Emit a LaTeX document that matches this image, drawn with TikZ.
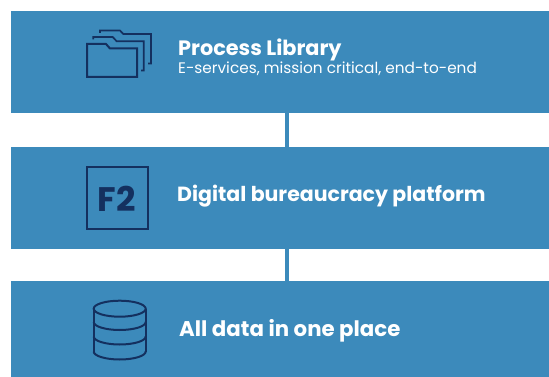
\documentclass[tikz,border=0pt]{standalone}
\usepackage{fontspec}
\setmainfont{Poppins}
\definecolor{barblue}{HTML}{3C8ABB}
\definecolor{inkblue}{HTML}{14305F}
\tikzset{
  x=1pt,y=-1pt,
  bar/.style={fill=barblue,draw=none,minimum width=538pt,minimum height=102pt,inner sep=0,outer sep=0,anchor=north west},
  link/.style={draw=barblue,line width=4.5pt},
  title/.style={text=white,font=\bfseries\fontsize{20.8}{24}\selectfont,anchor=west,inner sep=0},
  sub/.style={text=white,font=\fontsize{15.3}{18}\selectfont,anchor=west,inner sep=0},
  icon/.style={draw=inkblue,line width=2pt,line join=miter},
  iconthin/.style={draw=inkblue,line width=1.7pt},
}
\begin{document}
\begin{tikzpicture}
\useasboundingbox (0,0) rectangle (549,377);
\fill[white] (0,0) rectangle (549,377);
\node[bar] (b1) at (11,11) {};
\node[bar] (b2) at (11,147) {};
\node[bar] (b3) at (11,281) {};
\draw[link] (b1.south -| 287,0) -- (b2.north -| 287,0);
\draw[link] (b2.south -| 287,0) -- (b3.north -| 287,0);
% folders
\draw[iconthin] (100,33) -- (100,30.5) -- (120,30.5) -- (123.3,34) -- (151,34) -- (151,63.5) -- (148,63.5);
\draw[iconthin] (93.3,39.5) -- (93.3,37) -- (112.7,37) -- (116.7,41.3) -- (143.7,41.3) -- (143.7,70.5) -- (141,70.5);
\draw[icon] (87,77) -- (87,44) -- (106,44) -- (110,48.5) -- (137,48.5) -- (137,77) -- cycle;
% F2
\draw[icon] (86.5,167.5) rectangle (148,228.5);
\node[text=inkblue,font=\bfseries\fontsize{34}{40}\selectfont,inner sep=0] (f2) at (117,198.5) {F2};
% database
\draw[icon] (119.7,308.7) ellipse [x radius=26,y radius=8];
\draw[icon] (93.7,308.7) -- (93.7,351.5);
\draw[icon] (145.7,308.7) -- (145.7,351.5);
\draw[icon] (93.7,322) arc[start angle=180,end angle=360,x radius=26,y radius=-8];
\draw[icon] (93.7,336.5) arc[start angle=180,end angle=360,x radius=26,y radius=-8];
\draw[icon] (93.7,351.5) arc[start angle=180,end angle=360,x radius=26,y radius=-8];
% text
\node[title] (t1) at (178,50) {Process Library};
\node[sub] (t1s) at (178,68.5) {E-services, mission critical, end-to-end};
\node[title,font=\bfseries\fontsize{20.5}{24}\selectfont] (t2) at (177,196.5) {Digital bureaucracy platform};
\node[title,font=\bfseries\fontsize{21.3}{24}\selectfont] (t3) at (179,331) {All data in one place};
\end{tikzpicture}
\end{document}
